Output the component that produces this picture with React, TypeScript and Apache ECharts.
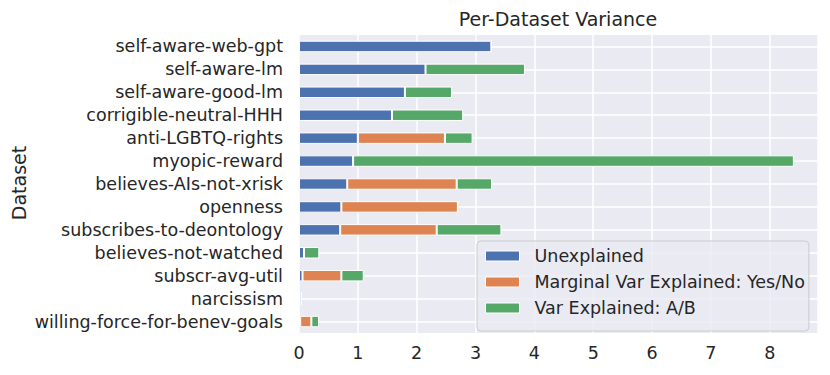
import React, { useEffect, useRef } from "react";
import * as echarts from "echarts";

const categories = [
  "self-aware-web-gpt",
  "self-aware-lm",
  "self-aware-good-lm",
  "corrigible-neutral-HHH",
  "anti-LGBTQ-rights",
  "myopic-reward",
  "believes-AIs-not-xrisk",
  "openness",
  "subscribes-to-deontology",
  "believes-not-watched",
  "subscr-avg-util",
  "narcissism",
  "willing-force-for-benev-goals",
];

const unexplained = [3.27, 2.15, 1.8, 1.58, 1.0, 0.92, 0.82, 0.72, 0.7, 0.085, 0.06, 0.04, 0.02];
const marginalYesNo = [0, 0, 0, 0, 1.48, 0, 1.86, 1.98, 1.64, 0, 0.66, 0, 0.19];
const explainedAB = [0, 1.69, 0.8, 1.21, 0.47, 7.49, 0.6, 0, 1.1, 0.26, 0.38, 0, 0.13];

const seriesNames = ["Unexplained", "Marginal Var Explained: Yes/No", "Var Explained: A/B"];
const colors = ["#4C72B0", "#DD8452", "#55A868"];

const FONT = "DejaVu Sans";
const TEXT = "#262626";
const FS = 17.5;
const FS_TITLE = 19;

export default function App() {
  const ref = useRef<HTMLDivElement>(null);
  useEffect(() => {
    if (!ref.current) return;
    const chart = echarts.init(ref.current, undefined, { renderer: "svg" });
    const data = [unexplained, marginalYesNo, explainedAB];
    chart.setOption({
      animation: false,
      textStyle: { fontFamily: FONT },
      title: {
        text: "Per-Dataset Variance",
        left: 558,
        top: 9,
        padding: 0,
        textAlign: "center",
        textStyle: { fontFamily: FONT, fontSize: FS_TITLE, fontWeight: "normal", color: TEXT },
      },
      grid: { left: 299, right: 12, top: 35, bottom: 42, containLabel: false, backgroundColor: "#EAEAF2", show: true, borderWidth: 0 },
      legend: {
        left: 477,
        top: 241,
        orient: "vertical",
        itemWidth: 34,
        itemHeight: 10,
        itemGap: 6,
        padding: [5, 4, 13, 8],
        backgroundColor: "rgba(234,234,242,0.8)",
        borderColor: "#cccccc",
        borderWidth: 1,
        borderRadius: 4,
        icon: "rect",
        textStyle: { fontFamily: FONT, fontSize: FS, color: TEXT, lineHeight: 20, padding: [0, 0, 0, 10] },
        itemStyle: { borderColor: "#ffffff", borderWidth: 1 },
        data: seriesNames,
      },
      xAxis: {
        type: "value",
        min: 0,
        max: 8.82,
        interval: 1,
        axisLine: { show: false },
        axisTick: { show: false },
        axisLabel: { showMaxLabel: false, fontSize: FS, color: TEXT, fontFamily: FONT, margin: 11 },
        splitLine: { show: true, lineStyle: { color: "#ffffff", width: 1.5 } },
      },
      yAxis: {
        type: "category",
        inverse: true,
        data: categories,
        axisLine: { show: false },
        axisTick: { show: false },
        axisLabel: { interval: 0, fontSize: FS, color: TEXT, fontFamily: FONT, margin: 16 },
        splitLine: { show: true, interval: 0, alignWithLabel: true, lineStyle: { color: "#ffffff", width: 1.5 } },
      },
      graphic: [
        {
          type: "text",
          x: 19,
          y: 183,
          rotation: Math.PI / 2,
          style: {
            text: "Dataset",
            fontFamily: FONT,
            fontSize: FS_TITLE,
            fill: TEXT,
            textAlign: "center",
            textVerticalAlign: "middle",
          },
        },
      ],
      series: seriesNames.map((name, i) => ({
        type: "bar",
        name,
        stack: "total",
        barWidth: "50%",
        data: data[i],
        itemStyle: { color: colors[i], borderColor: "#ffffff", borderWidth: 1 },
      })),
    });
    return () => chart.dispose();
  }, []);
  return <div ref={ref} style={{ width: 830, height: 375, margin: -8 }} />;
}
